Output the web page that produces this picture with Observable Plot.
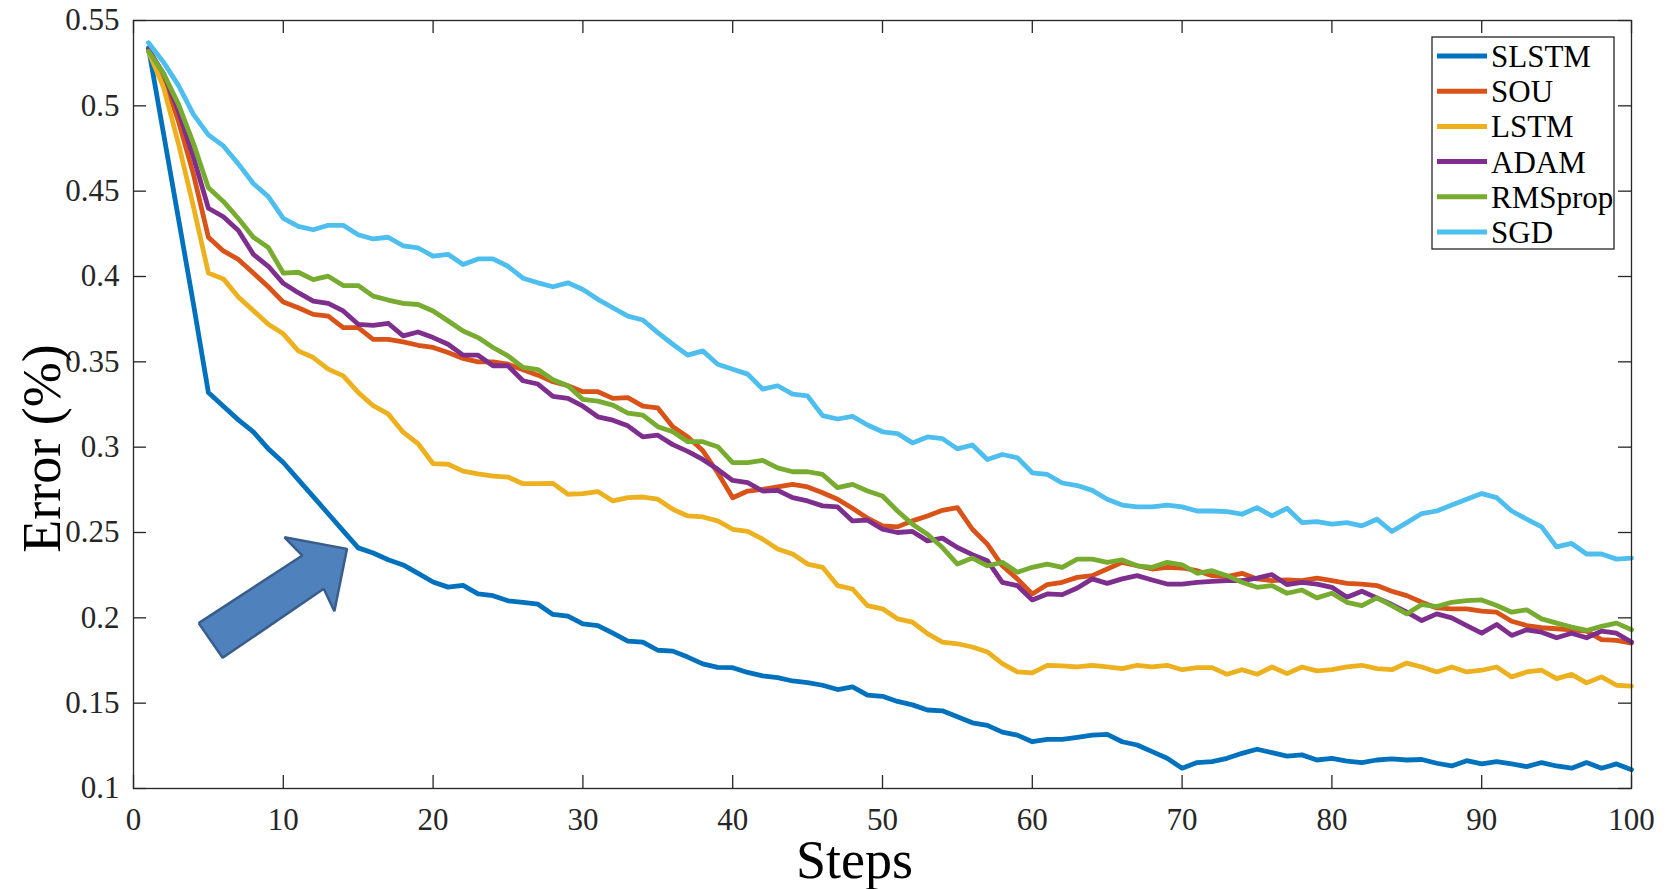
<!DOCTYPE html>
<html>
<head>
<meta charset="utf-8">
<script src="https://cdn.jsdelivr.net/npm/d3@7"></script>
<script src="https://cdn.jsdelivr.net/npm/@observablehq/plot@0.6"></script>
<style>
  html, body { margin: 0; padding: 0; background: #fff; }
  #chart { width: 1671px; height: 889px; }
  #chart svg text { font-family: 'Liberation Serif', 'Times New Roman', serif; }
</style>
</head>
<body>
<div id="chart"></div>
<script>
// ---------- data ----------
const steps = d3.range(1, 101);

const SLSTM = [0.534,0.484,0.434,0.384,0.332,0.324,0.316,0.309,0.299,0.291,
  0.281,0.271,0.261,0.251,0.241,0.238,0.234,0.231,0.226,0.221,
  0.218,0.219,0.214,0.213,0.210,0.209,0.208,0.202,0.201,0.1965,
  0.1955,0.191,0.1864,0.1858,0.181,0.1805,0.177,0.173,0.171,0.1708,
  0.168,0.166,0.165,0.163,0.162,0.1605,0.158,0.1595,0.1547,0.154,
  0.151,0.149,0.146,0.1455,0.142,0.1385,0.137,0.133,0.1313,0.1274,
  0.1288,0.1288,0.130,0.1313,0.1317,0.1274,0.1255,0.1216,0.1177,0.1119,
  0.1152,0.1158,0.1177,0.1206,0.123,0.121,0.119,0.1197,0.1167,0.1177,
  0.116,0.1152,0.1167,0.1173,0.1167,0.117,0.1148,0.1132,0.1163,0.1144,
  0.1158,0.1144,0.1128,0.1152,0.1132,0.1119,0.1152,0.1119,0.1144,0.111];

const SOU = [0.533,0.517,0.491,0.460,0.423,0.415,0.410,0.402,0.394,0.385,
  0.3817,0.3778,0.3768,0.370,0.370,0.3632,0.3632,0.3617,0.3597,0.3584,
  0.3555,0.352,0.350,0.350,0.3486,0.3453,0.3422,0.3383,0.336,0.3325,
  0.3325,0.3286,0.329,0.324,0.323,0.312,0.306,0.298,0.285,0.2704,
  0.2743,0.2753,0.2767,0.2782,0.2767,0.2733,0.2695,0.2642,0.2584,0.2539,
  0.2533,0.2568,0.2597,0.263,0.2646,0.2519,0.2432,0.2305,0.2228,0.214,
  0.2195,0.2208,0.2237,0.2247,0.2286,0.2325,0.2305,0.2286,0.2296,0.2292,
  0.2276,0.2247,0.2241,0.2261,0.2228,0.2218,0.2222,0.2218,0.2233,0.2218,
  0.2202,0.2198,0.2189,0.2156,0.213,0.2091,0.2058,0.2053,0.2053,0.2039,
  0.2033,0.198,0.1955,0.1942,0.1936,0.193,0.1922,0.1872,0.1868,0.1852];

const LSTM = [0.532,0.511,0.478,0.441,0.402,0.3986,0.388,0.380,0.372,0.3664,
  0.3564,0.3525,0.3457,0.3418,0.3321,0.3243,0.3195,0.3088,0.302,0.2903,
  0.29,0.286,0.2844,0.283,0.2825,0.2786,0.2786,0.2788,0.2724,0.2728,
  0.274,0.2685,0.2704,0.2708,0.2695,0.2636,0.2597,0.2591,0.2568,0.2519,
  0.2506,0.2461,0.2403,0.2374,0.2315,0.2296,0.2189,0.2169,0.2072,0.2053,
  0.1994,0.1975,0.1907,0.1858,0.1848,0.1829,0.18,0.1732,0.1683,0.1677,
  0.1722,0.1718,0.1712,0.1722,0.1712,0.1702,0.1722,0.1712,0.1722,0.1696,
  0.1708,0.1708,0.1669,0.1696,0.1669,0.1712,0.1673,0.1712,0.1689,0.1696,
  0.1712,0.1722,0.1702,0.1696,0.1735,0.1712,0.1683,0.1712,0.1683,0.1693,
  0.1712,0.1654,0.1683,0.1693,0.1644,0.1669,0.1619,0.1654,0.1605,0.160];

const ADAM = [0.533,0.519,0.497,0.470,0.440,0.435,0.427,0.413,0.406,0.396,
  0.3905,0.3856,0.3842,0.3798,0.372,0.3714,0.3726,0.3652,0.3675,0.3642,
  0.3603,0.3539,0.3539,0.3477,0.3477,0.3389,0.337,0.3298,0.3286,0.324,
  0.3178,0.3158,0.3125,0.306,0.307,0.3015,0.2975,0.2928,0.287,0.2805,
  0.2792,0.2743,0.2747,0.2704,0.2685,0.2656,0.265,0.2568,0.2572,0.2519,
  0.25,0.2506,0.2451,0.2467,0.2412,0.237,0.2335,0.2208,0.2189,0.2105,
  0.214,0.2136,0.2175,0.2228,0.2202,0.2228,0.2247,0.2222,0.2198,0.2198,
  0.2208,0.2214,0.2218,0.2218,0.2233,0.2253,0.2195,0.2208,0.2198,0.2179,
  0.2121,0.2156,0.2117,0.2078,0.2033,0.1984,0.2023,0.2000,0.1955,0.191,
  0.1961,0.1897,0.193,0.1916,0.1883,0.191,0.1883,0.1922,0.191,0.1858];

const RMSprop = [0.532,0.519,0.501,0.478,0.452,0.444,0.434,0.423,0.417,0.402,
  0.4025,0.3982,0.4002,0.3947,0.3947,0.3885,0.3862,0.3842,0.3836,0.3798,
  0.374,0.3681,0.3642,0.3584,0.3535,0.3467,0.3455,0.3395,0.336,0.328,
  0.327,0.3246,0.32,0.3188,0.312,0.309,0.3032,0.3032,0.3003,0.2909,
  0.2909,0.2922,0.2879,0.2856,0.2856,0.284,0.2763,0.2782,0.2743,0.2714,
  0.2626,0.2549,0.249,0.2412,0.2315,0.235,0.2305,0.2325,0.2267,0.2296,
  0.2315,0.2296,0.2344,0.2344,0.2325,0.2339,0.2305,0.2296,0.2325,0.2311,
  0.2261,0.2276,0.2247,0.2208,0.2179,0.2189,0.2144,0.2163,0.2117,0.2144,
  0.2091,0.2072,0.2117,0.2072,0.2023,0.2078,0.2066,0.2091,0.2101,0.2105,
  0.2072,0.2033,0.2047,0.1994,0.1969,0.1946,0.1926,0.195,0.1969,0.193];

const SGD = [0.537,0.5256,0.512,0.495,0.483,0.4765,0.466,0.4545,0.4468,0.434,
  0.4294,0.4274,0.430,0.430,0.4245,0.422,0.423,0.418,0.4167,0.412,
  0.413,0.407,0.4103,0.4103,0.406,0.399,0.3963,0.394,0.3963,0.3924,
  0.3866,0.3817,0.3768,0.3745,0.3671,0.3603,0.3539,0.3564,0.3486,0.3457,
  0.3428,0.334,0.336,0.3311,0.330,0.3185,0.3165,0.318,0.313,0.309,
  0.308,0.3025,0.306,0.305,0.299,0.3013,0.2928,0.2957,0.2938,0.285,
  0.284,0.279,0.2775,0.2747,0.2695,0.2661,0.265,0.265,0.2661,0.265,
  0.2626,0.2626,0.2622,0.2607,0.2646,0.2597,0.2642,0.2558,0.2564,0.2549,
  0.2558,0.2539,0.2578,0.2506,0.2558,0.2611,0.2626,0.2661,0.2695,0.2728,
  0.2704,0.2626,0.2578,0.2533,0.2416,0.2436,0.2374,0.2374,0.2344,0.235];

const seriesNames = ["SLSTM", "SOU", "LSTM", "ADAM", "RMSprop", "SGD"];
const seriesColors = ["#0072BD", "#D95319", "#EDB120", "#7E2F8E", "#77AC30", "#4DBEEE"];
const seriesValues = [SLSTM, SOU, LSTM, ADAM, RMSprop, SGD];

const xTicks = [0, 10, 20, 30, 40, 50, 60, 70, 80, 90, 100];
const xTickLabels = ["0", "10", "20", "30", "40", "50", "60", "70", "80", "90", "100"];
const yTicks = [0.1, 0.15, 0.2, 0.25, 0.3, 0.35, 0.4, 0.45, 0.5, 0.55];
const yTickLabels = ["0.1", "0.15", "0.2", "0.25", "0.3", "0.35", "0.4", "0.45", "0.5", "0.55"];

const xLabel = "Steps";
const yLabel = "Error (%)";

// annotation arrow outline, in data coordinates (step, error)
const arrowStep  = [4.35, 5.95, 12.70, 13.41, 14.25, 10.08, 11.27, 4.35];
const arrowError = [0.1969, 0.1766, 0.2170, 0.2039, 0.2404, 0.2472, 0.2365, 0.1969];

// ---------- build ----------
const W = 1671, H = 889;
const mL = 133, mR = 40, mT = 20, mB = 101;
const innerW = W - mL - mR, innerH = H - mT - mB;
const axisColor = "#262626";
const font = "'Liberation Serif', 'Times New Roman', serif";

const rows = [];
seriesNames.forEach((name, i) => {
  seriesValues[i].forEach((v, j) => rows.push({series: name, step: steps[j], error: v}));
});
const arrow = arrowStep.map((s, i) => ({step: s, error: arrowError[i]}));

const plot = Plot.plot({
  width: W, height: H,
  marginLeft: mL, marginRight: mR, marginTop: mT, marginBottom: mB,
  style: {fontFamily: font, fontSize: "31px", color: axisColor, background: "#fff", overflow: "visible"},
  x: {domain: [0, 100]},
  y: {domain: [0.1, 0.55]},
  color: {domain: seriesNames, range: seriesColors},
  marks: [
    Plot.axisX(xTicks, {anchor: "bottom", tickSize: 0, tickPadding: 19, label: null,
      tickFormat: d => xTickLabels[xTicks.indexOf(d)], fill: axisColor, fontFamily: font, fontSize: 31}),
    Plot.axisY(yTicks, {anchor: "left", tickSize: 0, tickPadding: 14, label: null,
      tickFormat: d => yTickLabels[yTicks.indexOf(d)], fill: axisColor, fontFamily: font, fontSize: 31}),
    // inward ticks on all four sides
    Plot.tickX(xTicks, {x: d => d, insetTop: innerH - 13, stroke: axisColor, strokeWidth: 1.3}),
    Plot.tickX(xTicks, {x: d => d, insetBottom: innerH - 13, stroke: axisColor, strokeWidth: 1.3}),
    Plot.tickY(yTicks, {y: d => d, insetRight: innerW - 13, stroke: axisColor, strokeWidth: 1.3}),
    Plot.tickY(yTicks, {y: d => d, insetLeft: innerW - 13, stroke: axisColor, strokeWidth: 1.3}),
    Plot.line(rows, {x: "step", y: "error", z: "series", stroke: "series",
      strokeWidth: 4.8, strokeLinejoin: "round", strokeLinecap: "round"}),
    Plot.line(arrow, {x: "step", y: "error", fill: "#4F81BD", stroke: "#385D8A",
      strokeWidth: 2.5, strokeLinejoin: "miter", strokeLinecap: "butt"}),
    Plot.frame({stroke: axisColor, strokeWidth: 1.3}),
    Plot.text([xLabel], {text: d => d, frameAnchor: "bottom", dx: -28, dy: 89,
      lineAnchor: "bottom", fontSize: 54, fontFamily: font, fill: "#000"}),
    Plot.text([yLabel], {text: d => d, frameAnchor: "left", rotate: -90, dx: -74, dy: 44,
      lineAnchor: "bottom", textAnchor: "middle", fontSize: 54, fontFamily: font, fill: "#000"})
  ]
});

// ---------- legend (inside the axes, top-right) ----------
const svg = d3.select(plot);
const lg = svg.append("g").attr("font-family", font).attr("font-size", 31).attr("text-anchor", "start");
const lgX = 1432, lgY = 37, lgW = 182, lgH = 212, rowGap = 35.2, firstRow = 56;
lg.append("rect").attr("x", lgX).attr("y", lgY).attr("width", lgW).attr("height", lgH)
  .attr("fill", "#fff").attr("stroke", axisColor).attr("stroke-width", 1.3);
seriesNames.forEach((name, i) => {
  const y = firstRow + i * rowGap;
  lg.append("line").attr("x1", lgX + 5).attr("x2", lgX + 55).attr("y1", y).attr("y2", y)
    .attr("stroke", seriesColors[i]).attr("stroke-width", 5);
  lg.append("text").attr("x", lgX + 59).attr("y", y + 11).attr("fill", "#000")
    .attr("text-anchor", "start").text(name);
});

document.getElementById("chart").appendChild(plot);
</script>
</body>
</html>
